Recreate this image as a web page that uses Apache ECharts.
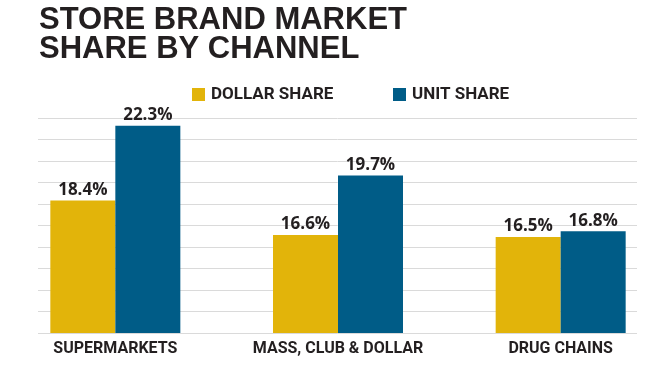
<!DOCTYPE html>
<html>
<head>
<meta charset="utf-8">
<script src="https://cdn.jsdelivr.net/npm/echarts@6/dist/echarts.min.js"></script>
<style>
html,body{margin:0;padding:0;background:#fff;}
#c{width:655px;height:368px;}
</style>
</head>
<body>
<div id="c"></div>
<script>
const categories = ['SUPERMARKETS', 'MASS, CLUB & DOLLAR', 'DRUG CHAINS'];
const dollarShare = [18.4, 16.6, 16.5];
const unitShare = [22.3, 19.7, 16.8];
const seriesNames = ['DOLLAR SHARE', 'UNIT SHARE'];
const titleLines = ['STORE BRAND MARKET', 'SHARE BY CHANNEL'];

const narrow = 'Roboto, "Liberation Sans", sans-serif';
const ink = '#231f20';
const YELLOW = '#E2B40A';
const BLUE = '#005C87';

const chart = echarts.init(document.getElementById('c'), null, {renderer: 'canvas'});
const labelCfg = {
  show: true, position: 'top', distance: 2,
  formatter: p => p.value.toFixed(1) + '%',
  fontFamily: '"Open Sans", "Liberation Sans", sans-serif',
  fontWeight: 700, fontSize: 17, color: ink
};
const legendText = {fontFamily: narrow, fontWeight: 'bold', fontSize: 17, color: ink, padding: [0, 0, 0, 1]};
chart.setOption({
  animation: false,
  backgroundColor: '#fff',
  title: {
    text: titleLines.join('\n'),
    left: 39, top: 6, padding: 0,
    textStyle: {fontFamily: '"Liberation Sans", Arial, sans-serif', fontWeight: 900, fontSize: 31, lineHeight: 29, color: ink}
  },
  legend: [
    {data: [seriesNames[0]], left: 192, top: 86, padding: 0, itemWidth: 13, itemHeight: 13, itemGap: 0, icon: 'rect', textStyle: legendText},
    {data: [seriesNames[1]], left: 393, top: 86, padding: 0, itemWidth: 13, itemHeight: 13, itemGap: 0, icon: 'rect', textStyle: legendText}
  ],
  grid: [
    {left: 4, right: -17, top: 118, bottom: 35, outerBoundsMode: 'none', containLabel: false},
    {left: 38, right: 18, top: 118, bottom: 35, outerBoundsMode: 'none', containLabel: false}
  ],
  xAxis: [
    {type: 'category', gridIndex: 0, data: categories,
     axisLine: {show: false}, axisTick: {show: false},
     axisLabel: {interval: 0, hideOverlap: false, margin: 8, fontFamily: narrow, fontWeight: 'bold', fontSize: 16, color: ink}},
    {type: 'value', gridIndex: 1, min: 0, max: 1, show: false}
  ],
  yAxis: [
    {type: 'value', gridIndex: 0, min: 11.5, max: 22.7, show: false, splitLine: {show: false}},
    {type: 'value', gridIndex: 1, min: 0, max: 10, interval: 1,
     axisLine: {show: false}, axisTick: {show: false}, axisLabel: {show: false},
     splitLine: {show: true, lineStyle: {color: '#dadada', width: 1}}}
  ],
  series: [
    {name: seriesNames[0], type: 'bar', xAxisIndex: 0, yAxisIndex: 0, data: dollarShare,
     barWidth: 65, barGap: '0%', clip: true, itemStyle: {color: YELLOW}, label: labelCfg},
    {name: seriesNames[1], type: 'bar', xAxisIndex: 0, yAxisIndex: 0, data: unitShare,
     barWidth: 65, barGap: '0%', clip: true, itemStyle: {color: BLUE}, label: labelCfg}
  ]
});
</script>
</body>
</html>
